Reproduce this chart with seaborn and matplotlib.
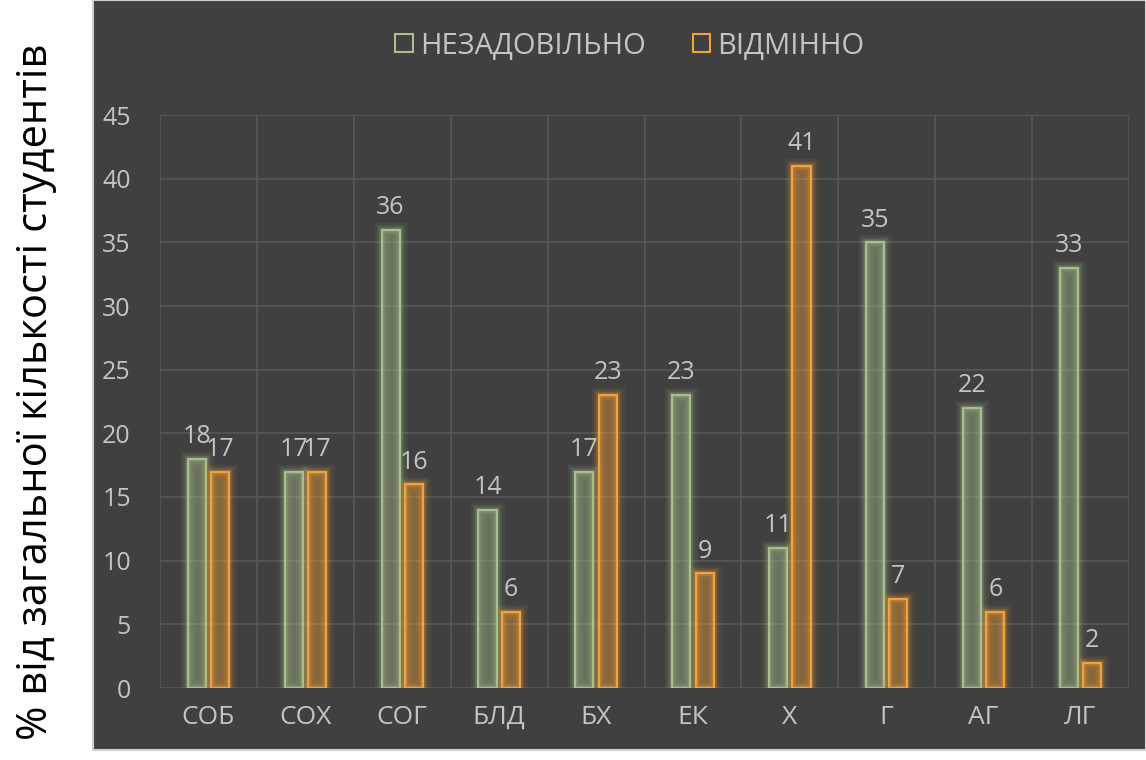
import matplotlib
matplotlib.use("Agg")
import matplotlib.pyplot as plt
import matplotlib.patheffects as pe
from matplotlib.patches import Rectangle
from matplotlib.ticker import MultipleLocator, FixedLocator
import seaborn as sns
import pandas as pd

categories = ["СОБ", "СОХ", "СОГ", "БЛД", "БХ", "ЕК", "Х", "Г", "АГ", "ЛГ"]
unsatisfactory = [18, 17, 36, 14, 17, 23, 11, 35, 22, 33]
excellent = [17, 17, 16, 6, 23, 9, 41, 7, 6, 2]
series_names = ["НЕЗАДОВІЛЬНО", "ВІДМІННО"]
y_label = "% від загальної кількості студентів"

colors = ["#a9c08c", "#f4a23a"]
text_color = "#c4c4c4"
panel_color = "#404040"

df = pd.DataFrame({
    "cat": categories * 2,
    "val": unsatisfactory + excellent,
    "series": [series_names[0]] * len(categories) + [series_names[1]] * len(categories),
})

sns.set_theme(style="white")
plt.rcParams["font.family"] = ["Open Sans", "DejaVu Sans"]

fig = plt.figure(figsize=(11.46, 7.6), dpi=100)
fig.patch.set_facecolor("white")
fig.patches.append(Rectangle((93 / 1146, 10 / 760), 1 - 93 / 1146, 1 - 10 / 760,
                             transform=fig.transFigure, facecolor=panel_color,
                             edgecolor="#d0d0d0", linewidth=1.5, zorder=-10))

ax = fig.add_axes([160 / 1146, 72 / 760, 969 / 1146, 573 / 760])
ax.set_facecolor("none")

sns.barplot(data=df, x="cat", y="val", hue="series", order=categories,
            hue_order=series_names, width=0.48, gap=0.22, ax=ax,
            legend=False, err_kws={"linewidth": 0})

n = len(categories)
for i, patch in enumerate(ax.patches[: 2 * n]):
    c = colors[i // n]
    patch.set_facecolor((*matplotlib.colors.to_rgb(c), 0.07))
    patch.set_edgecolor(c)
    patch.set_linewidth(1.6)
    patch.set_path_effects([
        pe.Stroke(linewidth=11, foreground=c, alpha=0.07),
        pe.Stroke(linewidth=7, foreground=c, alpha=0.12),
        pe.Stroke(linewidth=4, foreground=c, alpha=0.2),
        pe.Normal(),
    ])
    h = patch.get_height()
    ax.annotate(f"{int(h)}", (patch.get_x() + patch.get_width() / 2, h),
                xytext=(0, 7), textcoords="offset points", ha="center", va="bottom",
                color=text_color, fontsize=18)

ax.set_ylim(0, 45)
ax.set_xlim(-0.5, n - 0.5)
ax.yaxis.set_major_locator(MultipleLocator(5))
ax.xaxis.set_minor_locator(FixedLocator([i + 0.5 for i in range(-1, n)]))
ax.grid(True, axis="y", which="major", color="#575757", linewidth=1.2)
ax.grid(True, axis="x", which="minor", color="#575757", linewidth=1.2)
ax.grid(False, axis="x", which="major")
ax.set_axisbelow(True)
for s in ax.spines.values():
    s.set_visible(False)
ax.tick_params(axis="both", which="both", length=0, colors=text_color)
ax.tick_params(axis="y", pad=21, labelsize=18)
ax.tick_params(axis="x", pad=12, labelsize=19)
for lab in ax.get_yticklabels():
    lab.set_horizontalalignment("right")
ax.set_xlabel("")
ax.set_ylabel("")

fig.text(36 / 1146, 1 - 392 / 760, y_label, rotation=90, ha="center", va="center",
         fontsize=30, color="black")

handles = [Rectangle((0, 0), 1, 1, facecolor="none", edgecolor=c, linewidth=1.5) for c in colors]
fig.legend(handles, series_names, loc="center", bbox_to_anchor=(630 / 1146, 1 - 46 / 760),
           ncol=2, frameon=False, fontsize=21, labelcolor=text_color,
           handlelength=0.6, handleheight=0.6, handletextpad=0.25, columnspacing=1.6)

fig.savefig("out.png", dpi=100, facecolor=fig.get_facecolor())
